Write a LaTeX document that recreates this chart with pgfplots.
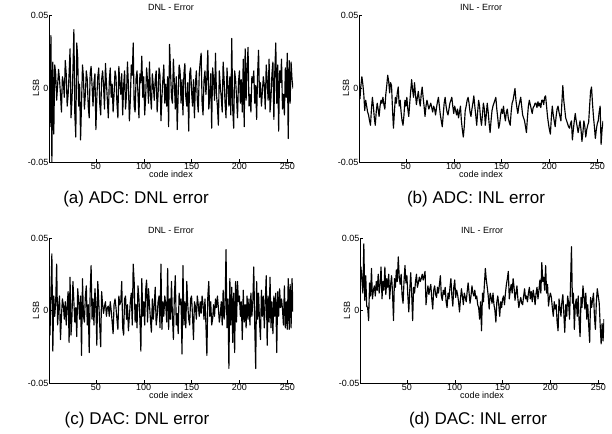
\documentclass[border=0pt]{standalone}
\usepackage{fontspec}
\setmainfont{Liberation Sans}
\usepackage{pgfplots}
\usepackage{pgfplotstable}
\pgfplotsset{compat=1.18}

% ADC DNL
\pgfplotstableread[row sep=\\,header=false]{
0.044\\ -0.026\\ 0.036\\ -0.050\\ 0.018\\ -0.031\\ 0.016\\ 0.010\\ -0.008\\ 0.002\\
0.013\\ 0.006\\ -0.004\\ -0.016\\ 0.008\\ 0.004\\ -0.006\\ 0.019\\ 0.010\\ -0.012\\
-0.004\\ 0.010\\ 0.027\\ -0.020\\ -0.008\\ 0.012\\ 0.040\\ -0.018\\ -0.033\\ 0.031\\
0.021\\ -0.012\\ 0.003\\ -0.035\\ -0.010\\ 0.016\\ 0.008\\ -0.014\\ -0.004\\ 0.012\\
0.006\\ -0.012\\ -0.020\\ 0.010\\ 0.015\\ 0.002\\ -0.012\\ 0.004\\ 0.010\\ -0.028\\
-0.006\\ 0.008\\ 0.014\\ -0.010\\ -0.018\\ 0.006\\ 0.012\\ 0.002\\ -0.014\\ 0.017\\
0.004\\ -0.008\\ -0.020\\ 0.005\\ 0.014\\ -0.006\\ 0.003\\ -0.016\\ -0.004\\ 0.012\\
0.008\\ -0.010\\ -0.020\\ 0.015\\ 0.004\\ -0.004\\ 0.010\\ -0.018\\ 0.002\\ 0.012\\
-0.014\\ -0.004\\ 0.018\\ 0.002\\ -0.022\\ -0.008\\ 0.016\\ 0.009\\ 0.031\\ -0.012\\
-0.016\\ 0.007\\ 0.012\\ -0.004\\ -0.020\\ 0.010\\ 0.004\\ 0.022\\ -0.006\\ 0.008\\
-0.018\\ -0.006\\ 0.014\\ 0.005\\ -0.010\\ 0.018\\ -0.004\\ -0.014\\ 0.010\\ 0.002\\
-0.008\\ 0.006\\ 0.012\\ -0.016\\ -0.004\\ 0.014\\ 0.009\\ -0.022\\ -0.006\\ 0.006\\
0.016\\ -0.010\\ 0.003\\ -0.012\\ 0.008\\ -0.026\\ 0.030\\ 0.012\\ -0.006\\ -0.010\\
0.020\\ 0.004\\ -0.014\\ 0.008\\ -0.028\\ -0.004\\ 0.016\\ 0.012\\ -0.010\\ 0.006\\
-0.018\\ 0.010\\ 0.017\\ -0.006\\ -0.012\\ 0.004\\ -0.029\\ 0.010\\ 0.014\\ -0.002\\
-0.012\\ 0.006\\ -0.020\\ 0.003\\ 0.012\\ -0.008\\ -0.016\\ 0.010\\ 0.018\\ 0.024\\
-0.010\\ -0.018\\ 0.006\\ 0.012\\ -0.004\\ 0.008\\ 0.026\\ -0.014\\ -0.006\\ 0.010\\
-0.027\\ 0.014\\ 0.006\\ -0.008\\ 0.024\\ -0.004\\ -0.012\\ -0.025\\ 0.012\\ 0.002\\
-0.006\\ -0.016\\ 0.018\\ 0.006\\ -0.010\\ -0.020\\ 0.014\\ 0.002\\ -0.012\\ 0.008\\
-0.018\\ 0.034\\ -0.014\\ -0.027\\ 0.012\\ 0.006\\ -0.006\\ -0.020\\ 0.004\\ 0.012\\
-0.010\\ 0.006\\ -0.016\\ 0.020\\ -0.026\\ 0.027\\ -0.008\\ 0.014\\ 0.028\\ -0.012\\
-0.004\\ -0.016\\ 0.008\\ 0.004\\ 0.012\\ -0.010\\ 0.002\\ -0.021\\ 0.010\\ 0.026\\
-0.006\\ 0.004\\ -0.012\\ -0.002\\ 0.008\\ 0.002\\ -0.014\\ 0.016\\ 0.006\\ -0.008\\
0.020\\ -0.016\\ -0.006\\ 0.010\\ 0.018\\ -0.021\\ 0.012\\ 0.031\\ -0.010\\ 0.016\\
-0.029\\ 0.012\\ 0.004\\ 0.020\\ -0.014\\ -0.004\\ -0.018\\ 0.014\\ -0.006\\ 0.024\\
-0.034\\ 0.019\\ -0.010\\ 0.018\\ 0.006\\ 0.000\\
}\adcdnl

% ADC INL
\pgfplotstableread[row sep=\\,header=false]{
0.008\\ -0.007\\ 0.002\\ 0.008\\ 0.003\\ -0.004\\ -0.015\\ -0.008\\ -0.012\\ -0.016\\
-0.018\\ -0.022\\ -0.025\\ -0.014\\ -0.006\\ -0.012\\ -0.020\\ -0.025\\ -0.016\\ -0.010\\
-0.014\\ -0.019\\ -0.012\\ -0.008\\ -0.010\\ -0.006\\ -0.011\\ -0.014\\ -0.004\\ 0.002\\
0.009\\ 0.005\\ -0.003\\ 0.004\\ 0.002\\ -0.014\\ -0.027\\ -0.016\\ -0.006\\ -0.010\\
-0.003\\ 0.001\\ -0.012\\ -0.008\\ -0.016\\ -0.022\\ -0.025\\ -0.018\\ -0.008\\ -0.012\\
-0.006\\ -0.014\\ -0.019\\ -0.010\\ -0.002\\ 0.006\\ -0.001\\ -0.006\\ 0.004\\ -0.004\\
-0.011\\ -0.006\\ -0.002\\ -0.008\\ -0.012\\ -0.004\\ 0.001\\ -0.006\\ -0.012\\ -0.019\\
-0.012\\ -0.008\\ -0.011\\ -0.014\\ -0.012\\ -0.010\\ -0.013\\ -0.016\\ -0.012\\ -0.014\\
-0.018\\ -0.013\\ -0.009\\ -0.006\\ -0.012\\ -0.018\\ -0.022\\ -0.026\\ -0.018\\ -0.010\\
-0.006\\ -0.012\\ -0.016\\ -0.018\\ -0.014\\ -0.010\\ -0.008\\ -0.006\\ -0.012\\ -0.017\\
-0.012\\ -0.015\\ -0.018\\ -0.014\\ -0.020\\ -0.016\\ -0.012\\ -0.022\\ -0.028\\ -0.033\\
-0.026\\ -0.015\\ -0.012\\ -0.008\\ -0.006\\ -0.010\\ -0.016\\ -0.019\\ -0.014\\ -0.010\\
-0.005\\ -0.012\\ -0.018\\ -0.025\\ -0.016\\ -0.008\\ -0.012\\ -0.020\\ -0.025\\ -0.018\\
-0.010\\ -0.014\\ -0.025\\ -0.018\\ -0.010\\ -0.016\\ -0.024\\ -0.030\\ -0.022\\ -0.015\\
-0.012\\ -0.010\\ -0.008\\ -0.006\\ -0.014\\ -0.020\\ -0.027\\ -0.024\\ -0.018\\ -0.014\\
-0.017\\ -0.012\\ -0.018\\ -0.022\\ -0.016\\ -0.014\\ -0.020\\ -0.023\\ -0.025\\ -0.016\\
-0.010\\ -0.008\\ -0.004\\ 0.000\\ -0.008\\ -0.013\\ -0.017\\ -0.012\\ -0.009\\ -0.006\\
-0.012\\ -0.018\\ -0.020\\ -0.022\\ -0.026\\ -0.030\\ -0.020\\ -0.012\\ -0.008\\ -0.011\\
-0.014\\ -0.017\\ -0.013\\ -0.012\\ -0.010\\ -0.010\\ -0.013\\ -0.009\\ -0.012\\ -0.010\\
-0.013\\ -0.008\\ -0.008\\ -0.011\\ -0.006\\ -0.005\\ -0.012\\ -0.019\\ -0.024\\ -0.028\\
-0.031\\ -0.020\\ -0.012\\ -0.018\\ -0.022\\ -0.026\\ -0.019\\ -0.014\\ -0.012\\ -0.016\\
-0.019\\ -0.022\\ -0.010\\ 0.002\\ -0.008\\ -0.014\\ -0.020\\ -0.022\\ -0.024\\ -0.026\\
-0.027\\ -0.024\\ -0.022\\ -0.035\\ -0.028\\ -0.022\\ -0.017\\ -0.022\\ -0.026\\ -0.030\\
-0.026\\ -0.022\\ -0.028\\ -0.036\\ -0.030\\ -0.022\\ -0.026\\ -0.033\\ -0.028\\ -0.025\\
-0.023\\ -0.012\\ -0.002\\ 0.001\\ -0.010\\ -0.019\\ -0.026\\ -0.034\\ -0.028\\ -0.024\\
-0.022\\ -0.016\\ -0.012\\ -0.038\\ -0.028\\ -0.022\\
}\adcinl

% DAC DNL
\pgfplotstableread[row sep=\\,header=false]{
0.030\\ -0.017\\ 0.012\\ 0.039\\ -0.028\\ 0.010\\ -0.004\\ 0.006\\ 0.032\\ -0.010\\
0.002\\ 0.010\\ -0.020\\ -0.004\\ 0.008\\ 0.004\\ -0.006\\ 0.006\\ -0.010\\ 0.004\\
0.013\\ -0.022\\ 0.023\\ -0.017\\ -0.004\\ 0.020\\ 0.006\\ -0.008\\ 0.002\\ -0.018\\
0.015\\ 0.006\\ -0.006\\ 0.010\\ -0.031\\ 0.022\\ -0.004\\ -0.008\\ 0.010\\ 0.017\\
-0.010\\ 0.004\\ -0.029\\ 0.012\\ 0.031\\ -0.006\\ 0.008\\ -0.010\\ 0.015\\ 0.004\\
-0.024\\ 0.020\\ 0.006\\ -0.010\\ -0.025\\ 0.013\\ 0.004\\ -0.002\\ 0.003\\ 0.006\\
-0.004\\ 0.002\\ 0.003\\ -0.004\\ 0.006\\ 0.000\\ -0.008\\ -0.016\\ 0.004\\ 0.008\\
0.002\\ -0.006\\ -0.013\\ 0.010\\ 0.004\\ 0.006\\ 0.020\\ -0.012\\ -0.017\\ 0.008\\
0.010\\ -0.006\\ 0.004\\ -0.014\\ -0.004\\ 0.006\\ 0.012\\ -0.010\\ 0.032\\ 0.020\\
-0.008\\ 0.004\\ -0.012\\ 0.017\\ 0.008\\ -0.006\\ -0.028\\ 0.022\\ -0.004\\ 0.006\\
-0.010\\ 0.014\\ 0.021\\ -0.008\\ 0.015\\ 0.004\\ -0.006\\ -0.015\\ 0.008\\ -0.006\\
0.004\\ 0.016\\ -0.010\\ -0.004\\ 0.006\\ 0.010\\ -0.012\\ 0.032\\ -0.013\\ 0.006\\
-0.004\\ 0.010\\ 0.004\\ -0.008\\ 0.029\\ -0.013\\ 0.008\\ -0.006\\ 0.020\\ -0.004\\
-0.020\\ 0.010\\ 0.024\\ -0.010\\ -0.002\\ -0.016\\ 0.012\\ 0.004\\ 0.008\\ -0.030\\
0.031\\ -0.010\\ 0.006\\ -0.012\\ 0.020\\ 0.004\\ -0.006\\ -0.010\\ 0.008\\ 0.010\\
-0.004\\ -0.020\\ 0.006\\ 0.003\\ -0.006\\ 0.010\\ 0.004\\ -0.004\\ 0.006\\ -0.002\\
0.010\\ 0.004\\ -0.006\\ 0.008\\ -0.010\\ -0.031\\ 0.010\\ 0.020\\ -0.004\\ 0.006\\
-0.010\\ -0.006\\ 0.004\\ -0.004\\ 0.008\\ 0.002\\ 0.010\\ 0.002\\ -0.008\\ -0.003\\
0.006\\ -0.010\\ 0.014\\ -0.006\\ 0.002\\ 0.042\\ -0.012\\ 0.008\\ -0.040\\ 0.022\\
-0.010\\ 0.016\\ -0.022\\ 0.012\\ -0.029\\ 0.020\\ -0.008\\ 0.020\\ 0.006\\ 0.010\\
-0.004\\ 0.006\\ -0.020\\ 0.014\\ -0.008\\ 0.004\\ -0.012\\ 0.010\\ -0.006\\ 0.008\\
-0.010\\ 0.012\\ -0.004\\ 0.006\\ 0.030\\ -0.010\\ -0.040\\ 0.020\\ -0.006\\ 0.012\\
-0.008\\ -0.020\\ 0.014\\ -0.004\\ 0.010\\ -0.012\\ 0.006\\ 0.024\\ -0.024\\ 0.010\\
-0.008\\ 0.023\\ -0.012\\ 0.006\\ -0.016\\ 0.010\\ -0.004\\ 0.012\\ -0.029\\ 0.013\\
-0.004\\ 0.015\\ 0.002\\ 0.008\\ 0.001\\ -0.010\\ 0.017\\ -0.012\\ 0.006\\ -0.013\\
0.022\\ -0.013\\ 0.018\\ -0.012\\ 0.022\\ -0.001\\
}\dacdnl

% DAC INL
\pgfplotstableread[row sep=\\,header=false]{
0.015\\ 0.030\\ 0.021\\ 0.012\\ 0.046\\ 0.007\\ 0.024\\ 0.003\\ 0.002\\ -0.007\\
0.019\\ 0.010\\ 0.029\\ 0.008\\ 0.014\\ 0.017\\ 0.010\\ 0.020\\ 0.014\\ 0.025\\
0.012\\ 0.018\\ 0.030\\ 0.008\\ 0.020\\ 0.014\\ 0.030\\ 0.011\\ 0.022\\ 0.016\\
0.025\\ 0.008\\ 0.018\\ 0.024\\ 0.012\\ -0.007\\ 0.022\\ 0.016\\ 0.028\\ 0.020\\
0.037\\ 0.023\\ 0.018\\ 0.025\\ 0.010\\ 0.005\\ 0.020\\ 0.031\\ 0.019\\ 0.024\\
0.010\\ -0.001\\ 0.014\\ 0.026\\ 0.012\\ -0.007\\ 0.016\\ 0.012\\ 0.020\\ 0.025\\
0.016\\ 0.019\\ 0.023\\ 0.020\\ 0.022\\ 0.025\\ 0.021\\ 0.024\\ 0.027\\ 0.004\\
0.012\\ 0.017\\ 0.011\\ 0.015\\ 0.018\\ 0.008\\ 0.001\\ 0.014\\ 0.017\\ 0.011\\
0.009\\ 0.016\\ 0.012\\ 0.018\\ 0.024\\ 0.010\\ 0.007\\ 0.014\\ 0.011\\ 0.016\\
0.006\\ 0.002\\ 0.012\\ 0.008\\ 0.016\\ 0.022\\ 0.010\\ 0.003\\ 0.016\\ 0.021\\
0.009\\ 0.014\\ 0.011\\ 0.006\\ -0.001\\ 0.008\\ 0.015\\ 0.010\\ 0.004\\ 0.012\\
0.009\\ 0.006\\ 0.013\\ 0.019\\ 0.012\\ 0.005\\ 0.010\\ 0.017\\ 0.012\\ 0.010\\
0.014\\ 0.008\\ 0.010\\ 0.004\\ 0.002\\ -0.006\\ 0.006\\ -0.014\\ 0.012\\ 0.006\\
0.018\\ 0.029\\ 0.021\\ 0.016\\ 0.010\\ 0.001\\ 0.012\\ 0.009\\ 0.005\\ 0.012\\
0.004\\ 0.000\\ -0.008\\ 0.006\\ 0.010\\ 0.004\\ -0.004\\ 0.006\\ 0.002\\ 0.008\\
0.010\\ 0.004\\ 0.012\\ 0.018\\ 0.022\\ 0.027\\ 0.008\\ 0.014\\ 0.018\\ 0.012\\
0.022\\ 0.016\\ 0.007\\ 0.012\\ 0.017\\ 0.008\\ 0.002\\ 0.006\\ 0.009\\ 0.005\\
0.004\\ 0.010\\ 0.015\\ 0.008\\ 0.010\\ 0.006\\ 0.012\\ 0.016\\ 0.008\\ 0.013\\
0.006\\ 0.014\\ 0.010\\ 0.004\\ 0.012\\ 0.016\\ 0.008\\ 0.014\\ 0.021\\ 0.012\\
0.033\\ 0.020\\ 0.023\\ 0.014\\ 0.031\\ 0.012\\ 0.018\\ 0.003\\ 0.009\\ 0.012\\
0.009\\ 0.002\\ -0.004\\ 0.006\\ 0.001\\ 0.004\\ -0.008\\ -0.014\\ 0.008\\ 0.002\\
-0.004\\ 0.006\\ 0.011\\ -0.002\\ -0.015\\ 0.004\\ -0.004\\ 0.010\\ 0.005\\ -0.006\\
0.018\\ 0.044\\ 0.005\\ 0.012\\ -0.013\\ 0.004\\ 0.008\\ -0.004\\ 0.010\\ -0.008\\
-0.018\\ 0.009\\ 0.002\\ 0.017\\ 0.010\\ 0.001\\ 0.012\\ -0.006\\ 0.004\\ -0.010\\
-0.022\\ 0.009\\ 0.002\\ 0.007\\ 0.012\\ -0.004\\ -0.013\\ 0.006\\ 0.015\\ 0.010\\
0.005\\ -0.010\\ -0.023\\ -0.009\\ -0.021\\ -0.006\\
}\dacinl

\pgfplotsset{
  errplot/.style={
    width=244pt, scale only axis,
    xmin=1, xmax=256, ymin=-0.05, ymax=0.05,
    axis x line=bottom, axis y line=left,
    axis line style={-, line width=0.6pt},
    tick align=inside, major tick length=2.5pt,
    tick style={line width=0.4pt, black},
    xtick={50,100,150,200,250},
    ytick={-0.05,0,0.05}, yticklabels={-0.05,0,0.05},
    scaled y ticks=false,
    /pgf/number format/assume math mode=true,
    tick label style={font=\fontsize{9}{10}\selectfont},
    xticklabel style={inner sep=1pt},
    yticklabel style={inner sep=0.5pt},
    every axis title shift=0pt,
    title style={at={(axis description cs:0.5,1.052)}, anchor=center,
      inner sep=0pt, font=\fontsize{9}{10}\selectfont},
    xlabel={code index}, ylabel={LSB},
    xlabel style={at={(axis description cs:0.5,-0.082)}, anchor=center,
      inner sep=0pt, font=\fontsize{9}{10}\selectfont},
    ylabel style={at={(axis description cs:-0.053,0.5)}, anchor=center,
      inner sep=0pt, font=\fontsize{9}{10}\selectfont},
  },
  errline/.style={black, line width=1.15pt, line join=round, mark=none},
}

\begin{document}
\begin{tikzpicture}
\useasboundingbox (0,0) rectangle (612pt,433pt);

\begin{axis}[errplot, height=147pt, at={(49pt,271pt)}, anchor=south west,
  title={DNL - Error}]
\addplot[errline] table[x expr=\coordindex+1, y index=0] {\adcdnl};
\end{axis}

\begin{axis}[errplot, height=147pt, at={(359pt,271pt)}, anchor=south west,
  title={INL - Error}]
\addplot[errline] table[x expr=\coordindex+1, y index=0] {\adcinl};
\end{axis}

\begin{axis}[errplot, height=145pt, at={(49pt,50pt)}, anchor=south west,
  title={DNL - Error}]
\addplot[errline] table[x expr=\coordindex+1, y index=0] {\dacdnl};
\end{axis}

\begin{axis}[errplot, height=145pt, at={(360pt,50pt)}, anchor=south west,
  title={INL - Error}]
\addplot[errline] table[x expr=\coordindex+1, y index=0] {\dacinl};
\end{axis}

\node[font=\fontsize{17}{20}\selectfont] at (136pt,234pt) {(a) ADC: DNL error};
\node[font=\fontsize{17}{20}\selectfont] at (476pt,234pt) {(b) ADC: INL error};
\node[font=\fontsize{17}{20}\selectfont] at (137pt,13pt) {(c) DAC: DNL error};
\node[font=\fontsize{17}{20}\selectfont] at (478pt,13pt) {(d) DAC: INL error};
\end{tikzpicture}
\end{document}
